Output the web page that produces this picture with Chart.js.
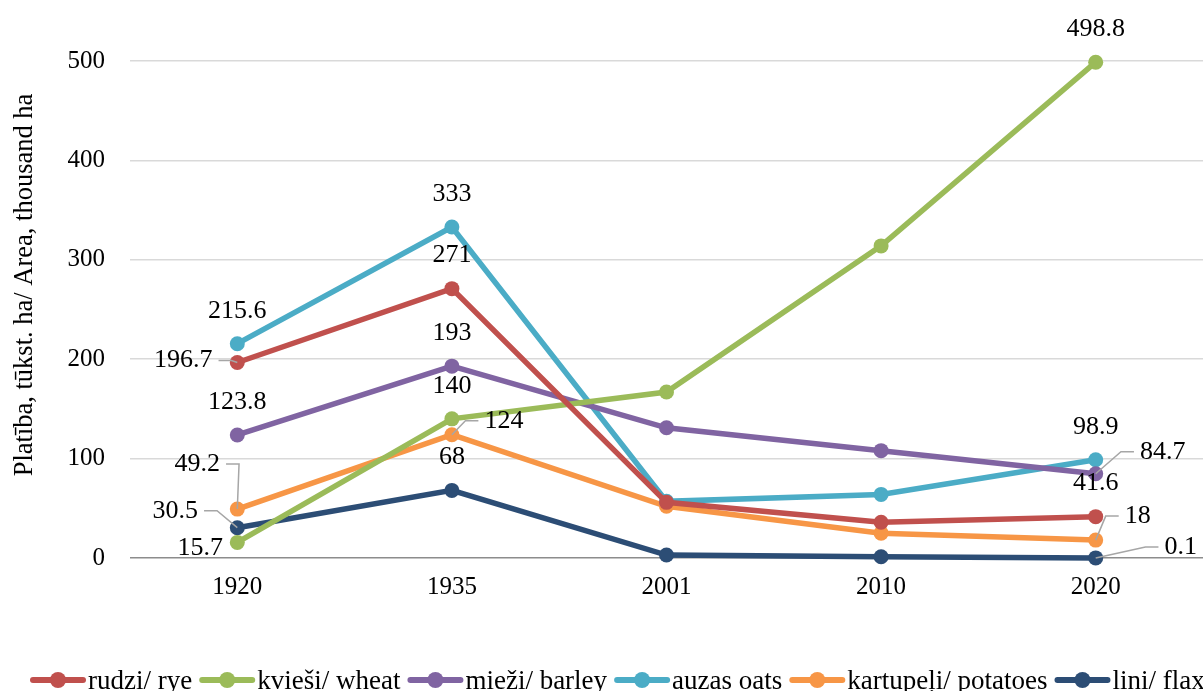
<!DOCTYPE html>
<html>
<head>
<meta charset="utf-8">
<script src="https://cdn.jsdelivr.net/npm/chart.js@4/dist/chart.umd.min.js"></script>
<style>
    html, body { margin: 0; padding: 0; background: #fff; }
    #wrap { width: 1203px; height: 691px; }
</style>
</head>
<body>
<div id="wrap"><canvas id="chart" width="1203" height="691"></canvas></div>
<script>
// =========================
// DATA
// =========================
const years = ["1920", "1935", "2001", "2010", "2020"];
const yTicks = [0, 100, 200, 300, 400, 500];

const rye = [196.7, 271, 56, 36, 41.6];
const wheat = [15.7, 140, 167, 314, 498.8];
const barley = [123.8, 193, 131, 108, 84.7];
const oats = [215.6, 333, 57, 64, 98.9];
const potatoes = [49.2, 124, 52, 25, 18];
const flax = [30.5, 68, 3, 1.3, 0.1];

const seriesNames = ["rudzi/ rye", "kvieši/ wheat", "mieži/ barley", "auzas oats", "kartupeļi/ potatoes", "lini/ flax"];
const yTitle = "Platība, tūkst. ha/ Area, thousand ha";

// =========================
// STYLE
// =========================
const colors = ["#c0504d", "#9bbb59", "#8064a2", "#4bacc6", "#f79646", "#2c4d75"];
const FONT = "'Liberation Serif', 'Times New Roman', serif";

// label placement per series, per point: null = no label, [dx, dy, leader]
const U = [0, -33, false];
const labelPlace = [
    [[-54, -2, true], U, null, null, U],                       // rye
    [[-37, 6, false], U, null, null, U],                       // wheat
    [U, U, null, null, [67, -22, true]],                       // barley
    [U, U, null, null, U],                                     // oats
    [[-40, -45, true], [52, -14, true], null, null, [42, -24, true]], // potatoes
    [[-62, -17, true], U, null, null, [85, -11, true]]         // flax
];

// =========================
// PLUGINS
// =========================
const dataLabels = {
    id: "dataLabels",
    afterDatasetsDraw(chart) {
        const ctx = chart.ctx;
        ctx.save();
        ctx.font = "26px " + FONT;
        ctx.textAlign = "center";
        ctx.textBaseline = "middle";
        chart.data.datasets.forEach((ds, i) => {
            const meta = chart.getDatasetMeta(i);
            meta.data.forEach((pt, j) => {
                const place = labelPlace[i][j];
                if (!place) return;
                const txt = String(ds.data[j]);
                const lx = pt.x + place[0];
                const ly = pt.y + place[1];
                if (place[2]) {
                    const w = ctx.measureText(txt).width;
                    const side = place[0] < 0 ? 1 : -1;
                    const sx = lx + side * (w / 2 + 6);
                    const hx = sx + side * 13;
                    ctx.strokeStyle = "#a6a6a6";
                    ctx.lineWidth = 1.5;
                    ctx.beginPath();
                    ctx.moveTo(sx, ly);
                    ctx.lineTo(hx, ly);
                    ctx.lineTo(pt.x, pt.y);
                    ctx.stroke();
                }
                ctx.fillStyle = "#000";
                ctx.fillText(txt, lx, ly);
            });
        });
        ctx.restore();
    }
};

// y axis title, centred a bit above the plot middle like the original
const axisTitle = {
    id: "axisTitle",
    afterDraw(chart) {
        const ctx = chart.ctx;
        ctx.save();
        ctx.font = "26.5px " + FONT;
        ctx.fillStyle = "#000";
        ctx.textAlign = "center";
        ctx.textBaseline = "middle";
        ctx.translate(25, 285);
        ctx.rotate(-Math.PI / 2);
        ctx.fillText(yTitle, 0, 0);
        ctx.restore();
    }
};

const bottomLegend = {
    id: "bottomLegend",
    afterDraw(chart) {
        const ctx = chart.ctx;
        ctx.save();
        ctx.font = "27px " + FONT;
        ctx.textBaseline = "alphabetic";
        let x = 30;
        const cy = 680;
        chart.data.datasets.forEach((ds) => {
            ctx.strokeStyle = ds.borderColor;
            ctx.lineWidth = 6;
            ctx.lineCap = "round";
            ctx.beginPath();
            ctx.moveTo(x + 3, cy);
            ctx.lineTo(x + 53, cy);
            ctx.stroke();
            ctx.fillStyle = ds.borderColor;
            ctx.beginPath();
            ctx.arc(x + 28, cy, 8, 0, Math.PI * 2);
            ctx.fill();
            ctx.fillStyle = "#000";
            ctx.fillText(ds.label, x + 58, 689);
            x += 58 + ctx.measureText(ds.label).width + 7;
        });
        ctx.restore();
    }
};

// =========================
// CHART
// =========================
const allSeries = [rye, wheat, barley, oats, potatoes, flax];

const chart = new Chart(document.getElementById("chart").getContext("2d"), {
    type: "line",
    data: {
        labels: years,
        datasets: allSeries.map((s, i) => ({
            label: seriesNames[i],
            data: s,
            borderColor: colors[i],
            backgroundColor: colors[i],
            borderWidth: 5.5,
            pointRadius: 7.5,
            pointHoverRadius: 7.5,
            pointBorderWidth: 0,
            tension: 0,
            clip: false
        }))
    },
    options: {
        responsive: false,
        animation: false,
        layout: { autoPadding: false, padding: { top: 61, right: -2, left: 0, bottom: 0 } },
        plugins: {
            legend: { display: false },
            tooltip: { enabled: false }
        },
        scales: {
            x: {
                offset: true,
                grid: { display: false, drawTicks: false },
                border: { display: false },
                ticks: { color: "#000", font: { family: FONT, size: 25 }, padding: 14 },
                afterFit(scale) { scale.height = 133; }
            },
            y: {
                min: 0,
                max: 500,
                afterBuildTicks(scale) { scale.ticks = yTicks.map(v => ({ value: v })); },
                grid: {
                    drawTicks: false,
                    lineWidth: 1.5,
                    color: (c) => c.tick && c.tick.value === 0 ? "#8c8c8c" : "#d9d9d9"
                },
                border: { display: false },
                ticks: { color: "#000", font: { family: FONT, size: 25 }, padding: 25 },
                afterFit(scale) { scale.width = 130; }
            }
        }
    },
    plugins: [dataLabels, axisTitle, bottomLegend]
});
</script>
</body>
</html>
